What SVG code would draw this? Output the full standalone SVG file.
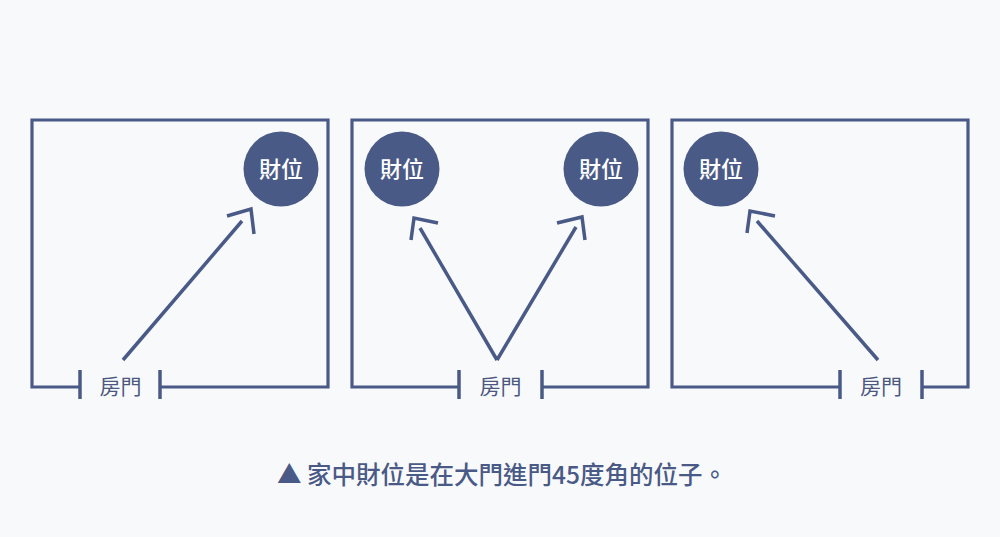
<svg xmlns="http://www.w3.org/2000/svg" width="1000" height="537" viewBox="0 0 1000 537">
<style>
.wall{fill:none;stroke:#4a5a86;stroke-width:3.2}
.tick{stroke:#4a5a86;stroke-width:3.5}
.arr{fill:none;stroke:#4a5a86;stroke-width:3.5}
.spot{fill:#4a5a86}
.spot-t{font-family:"Noto Sans CJK TC","Noto Sans CJK SC",sans-serif;font-size:22px;font-weight:500;fill:#ffffff;text-anchor:middle;dominant-baseline:central}
.door-t{font-family:"Noto Sans CJK TC","Noto Sans CJK SC",sans-serif;font-size:21px;fill:#4d5880;text-anchor:middle;dominant-baseline:central}
.cap{font-family:"Noto Sans CJK TC","Noto Sans CJK SC",sans-serif;font-size:24.5px;font-weight:500;fill:#4a5a86}
</style>
<rect width="1000" height="537" fill="#f8f9fb"/>
<g id="room1">
<path class="wall" d="M80 387H32V120H328V387H160"/>
<line class="tick" x1="80" y1="370" x2="80" y2="399"/>
<line class="tick" x1="160" y1="370" x2="160" y2="399"/>
<text class="door-t" x="120.5" y="384.5">房門</text>
</g>
<g id="room2">
<path class="wall" d="M459 387H352V120H648V387H542"/>
<line class="tick" x1="459" y1="370" x2="459" y2="399"/>
<line class="tick" x1="542" y1="370" x2="542" y2="399"/>
<text class="door-t" x="500.5" y="384.5">房門</text>
</g>
<g id="room3">
<path class="wall" d="M840 387H672V120H968V387H922"/>
<line class="tick" x1="840" y1="370" x2="840" y2="399"/>
<line class="tick" x1="922" y1="370" x2="922" y2="399"/>
<text class="door-t" x="881" y="384.5">房門</text>
</g>
<g id="spot1">
<circle class="spot" cx="281" cy="169" r="37.5"/>
<text class="spot-t" x="281" y="167">財位</text>
</g>
<g id="spot2">
<circle class="spot" cx="402" cy="169" r="37.5"/>
<text class="spot-t" x="402" y="167">財位</text>
</g>
<g id="spot3">
<circle class="spot" cx="601" cy="169" r="37.5"/>
<text class="spot-t" x="601" y="167">財位</text>
</g>
<g id="spot4">
<circle class="spot" cx="721" cy="169" r="37.5"/>
<text class="spot-t" x="721" y="167">財位</text>
</g>
<g id="connectors">
<line class="arr" x1="123" y1="360" x2="242" y2="221"/>
<polyline class="arr" points="227,216 251,209 254,234"/>
<line class="arr" x1="497" y1="360" x2="420" y2="228"/>
<polyline class="arr" points="411,240 414,218 438,223"/>
<line class="arr" x1="497" y1="360" x2="576" y2="227"/>
<polyline class="arr" points="557,223 582,217 585,240"/>
<line class="arr" x1="878" y1="360" x2="757" y2="221"/>
<polyline class="arr" points="747,233 750,211 775,216"/>
</g>
<g id="caption">
<text class="cap" x="277" y="483.5">▲ 家中財位是在大門進門45度角的位子。</text>
</g>
</svg>
